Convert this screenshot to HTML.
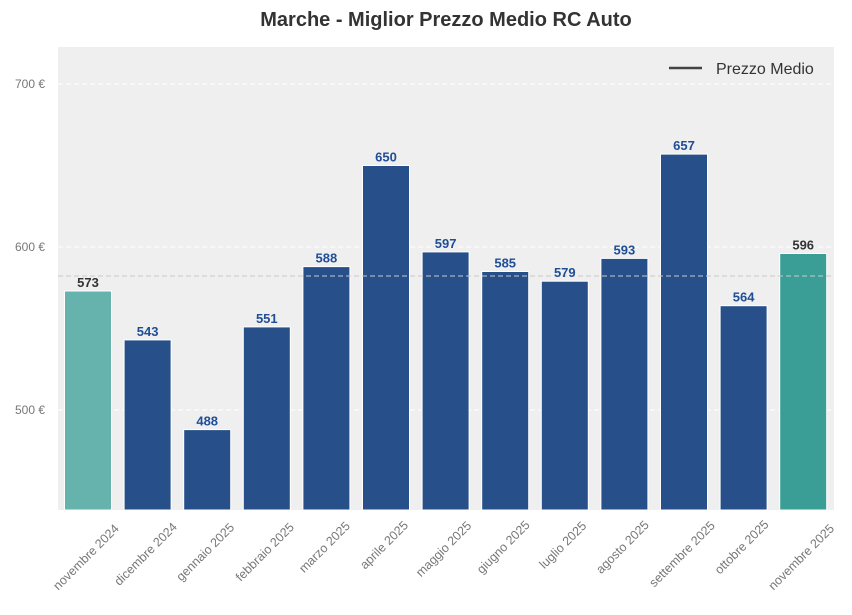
<!DOCTYPE html>
<html><head><meta charset="utf-8"><style>
body{margin:0;background:#fff;}
svg text{font-family:"Liberation Sans",Arial,sans-serif;}
</style></head><body>
<svg width="852" height="610" xmlns="http://www.w3.org/2000/svg">
<rect width="852" height="610" fill="#fff"/>
<text x="446" y="26" text-anchor="middle" font-size="20" font-weight="bold" fill="#333">Marche - Miglior Prezzo Medio RC Auto</text>
<rect x="58" y="47" width="776" height="463" fill="#efefef"/>
<g stroke="#fff" stroke-dasharray="5,3" stroke-width="1">
<line x1="58" y1="84" x2="834" y2="84"/><line x1="58" y1="247" x2="834" y2="247"/><line x1="58" y1="410" x2="834" y2="410"/>
</g>
<g font-size="12" fill="#777" text-anchor="end">
<text x="45" y="88">700 €</text><text x="45" y="251">600 €</text><text x="45" y="414">500 €</text>
</g>
<g stroke="#fff" stroke-width="1">
<rect x="64.5" y="291" width="47" height="219" fill="#66b2ad"/>
<rect x="124.1" y="339.9" width="47" height="170.1" fill="#27508a"/>
<rect x="183.7" y="429.6" width="47" height="80.4" fill="#27508a"/>
<rect x="243.3" y="326.9" width="47" height="183.1" fill="#27508a"/>
<rect x="302.9" y="266.6" width="47" height="243.4" fill="#27508a"/>
<rect x="362.5" y="165.5" width="47" height="344.5" fill="#27508a"/>
<rect x="422.1" y="251.9" width="47" height="258.1" fill="#27508a"/>
<rect x="481.7" y="271.5" width="47" height="238.5" fill="#27508a"/>
<rect x="541.3" y="281.2" width="47" height="228.8" fill="#27508a"/>
<rect x="600.9" y="258.4" width="47" height="251.6" fill="#27508a"/>
<rect x="660.5" y="154.1" width="47" height="355.9" fill="#27508a"/>
<rect x="720.1" y="305.7" width="47" height="204.3" fill="#27508a"/>
<rect x="779.7" y="253.5" width="47" height="256.5" fill="#3a9e96"/>
</g>
<line x1="58" y1="276" x2="834" y2="276" stroke="#c8c8c8" stroke-dasharray="5,3"/>
<g font-size="13" font-weight="bold" text-anchor="middle" fill="#1f4e96">
<text x="88" y="287" fill="#333">573</text>
<text x="147.6" y="336">543</text>
<text x="207.2" y="425.6">488</text>
<text x="266.8" y="323">551</text>
<text x="326.4" y="262.6">588</text>
<text x="386" y="161.5">650</text>
<text x="445.6" y="248">597</text>
<text x="505.2" y="267.5">585</text>
<text x="564.8" y="277.2">579</text>
<text x="624.4" y="254.4">593</text>
<text x="684" y="150.1">657</text>
<text x="743.6" y="301.7">564</text>
<text x="803.2" y="249.5" fill="#333">596</text>
</g>
<g font-size="12.5" fill="#777" text-anchor="middle">
<text transform="translate(89,560) rotate(-45)">novembre 2024</text>
<text transform="translate(148.6,557) rotate(-45)">dicembre 2024</text>
<text transform="translate(208.2,555) rotate(-45)">gennaio 2025</text>
<text transform="translate(267.8,555) rotate(-45)">febbraio 2025</text>
<text transform="translate(327.4,550) rotate(-45)">marzo 2025</text>
<text transform="translate(387,548) rotate(-45)">aprile 2025</text>
<text transform="translate(446.6,552) rotate(-45)">maggio 2025</text>
<text transform="translate(506.2,550) rotate(-45)">giugno 2025</text>
<text transform="translate(565.8,548) rotate(-45)">luglio 2025</text>
<text transform="translate(625.4,550) rotate(-45)">agosto 2025</text>
<text transform="translate(685,557) rotate(-45)">settembre 2025</text>
<text transform="translate(744.6,550) rotate(-45)">ottobre 2025</text>
<text transform="translate(804.2,560) rotate(-45)">novembre 2025</text>
</g>
<line x1="669" y1="68" x2="702" y2="68" stroke="#444" stroke-width="2.5"/>
<text x="716" y="74" font-size="16" fill="#333">Prezzo Medio</text>
</svg>
</body></html>
